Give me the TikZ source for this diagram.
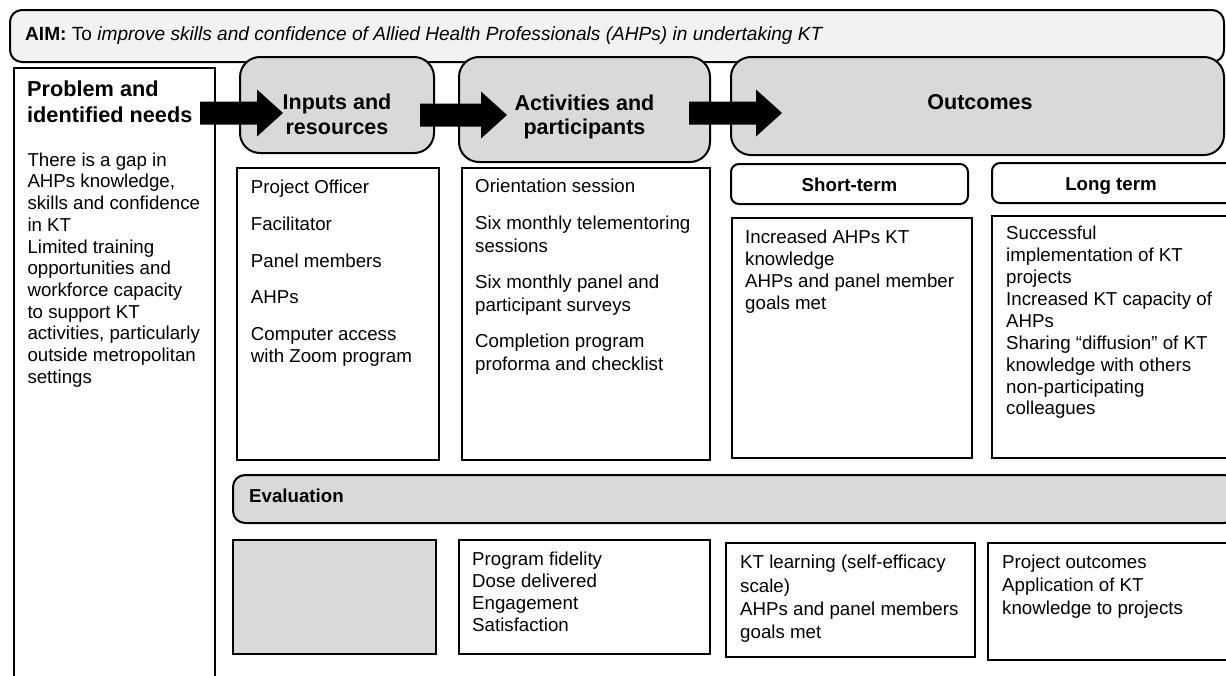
\documentclass[tikz,border=0pt]{standalone}
\usepackage{fontspec}
\setmainfont{Liberation Sans}
\usetikzlibrary{calc,fit}
\definecolor{hdrgray}{HTML}{D9D9D9}
\definecolor{aimgray}{HTML}{F2F2F2}
\tikzset{
  frame/.style={draw=black, line width=2pt, inner sep=0pt, outer sep=0pt},
  hdr/.style={frame, fill=hdrgray, rounded corners=20pt},
  subhdr/.style={frame, rounded corners=8pt},
  bar/.style={frame, fill=hdrgray, rounded corners=12pt},
  body/.style={anchor=north west, inner sep=0pt, align=left,
    font=\fontsize{18.7}{21.7}\selectfont,
    execute at begin node=\rule{0pt}{14pt}},
  bighead/.style={inner sep=0pt, font=\bfseries\fontsize{21.5}{24.7}\selectfont,
    execute at begin node=\rule{0pt}{16pt}},
  smallhead/.style={anchor=north, inner sep=0pt, font=\bfseries\fontsize{18.7}{21.7}\selectfont,
    execute at begin node=\rule{0pt}{14pt}},
}
% filled block arrow between two named points
\newcommand\blockarrow[2]{%
  \fill[black] ($(#1)+(0,-11.5)$) -- ($(#2)+(-26,-11.5)$) -- ($(#2)+(-26,-23.5)$)
    -- (#2) -- ($(#2)+(-26,23.5)$) -- ($(#2)+(-26,11.5)$) -- ($(#1)+(0,11.5)$) -- cycle;}
\begin{document}
\begin{tikzpicture}[x=1pt,y=-1pt]
\useasboundingbox (0,0) rectangle (1226,675);

% aim banner
\node[frame, fill=aimgray, rounded corners=12pt, fit={(10,10) (1224,62)}] (aim) {};
\node[body, font=\fontsize{19.1}{22}\selectfont] (aimtext) at (25,26.7)
  {\textbf{AIM:} To \textit{improve skills and confidence of Allied Health Professionals (AHPs) in undertaking KT}};

% problem column
\node[frame, fill=white, fit={(14,68) (215,700)}] (problem) {};
\node[bighead, anchor=north west, align=left, font=\bfseries\fontsize{21.7}{26}\selectfont] (problemhead) at (27,81)
  {Problem and\\identified needs};
\node[body] (problemtext) at (27.3,152.5)
  {There is a gap in\\AHPs knowledge,\\skills and confidence\\in KT\\Limited training\\opportunities and\\workforce capacity\\to support KT\\activities, particularly\\outside metropolitan\\settings};

% column headers
\node[hdr, fit={(240,57) (434,153)}] (inputs) {};
\node[hdr, fit={(459,57) (710,162)}] (activities) {};
\node[hdr, fit={(731,57) (1224,155)}] (outcomes) {};
\node[bighead, anchor=north, align=center] (inputshead) at (337,94) {Inputs and\\resources};
\node[bighead, anchor=north, align=center, font=\bfseries\fontsize{21.5}{24}\selectfont] (activhead) at (584.5,95) {Activities and\\participants};
\node[bighead, anchor=north] (outhead) at (980,93) {Outcomes};

% outcome sub-headers
\node[subhdr, fit={(731,164) (968,204)}] (short) {};
\node[subhdr, fit={(992,163) (1234,203)}] (long) {};
\node[smallhead] (shorthead) at (849.5,177.7) {Short-term};
\node[smallhead] (longhead) at (1111,176.7) {Long term};

% content boxes
\node[frame, fit={(237,168) (439,460)}] (inputsbox) {};
\node[frame, fit={(462,168) (710,460)}] (activbox) {};
\node[frame, fit={(732,218) (972,458)}] (shortbox) {};
\node[frame, fit={(992,216) (1234,458)}] (longbox) {};

\node[body, font=\fontsize{18.7}{22.4}\selectfont] (inputstext) at (250.7,180)
  {Project Officer\\[14pt]Facilitator\\[14.5pt]Panel members\\[14pt]AHPs\\[14.2pt]Computer access\\with Zoom program};
\node[body, font=\fontsize{18.7}{22.4}\selectfont] (activtext) at (475,179)
  {Orientation session\\[14.5pt]Six monthly telementoring\\sessions\\[14.2pt]Six monthly panel and\\participant surveys\\[14.5pt]Completion program\\proforma and checklist};
\node[body, font=\fontsize{18.7}{22}\selectfont] (shorttext) at (745,230)
  {Increased AHPs KT\\knowledge\\AHPs and panel member\\goals met};
\node[body, font=\fontsize{18.7}{21.9}\selectfont] (longtext) at (1006,226)
  {Successful\\implementation of KT\\projects\\Increased KT capacity of\\AHPs\\Sharing “diffusion” of KT\\knowledge with others\\non-participating\\colleagues};

% evaluation row
\node[bar, fit={(233,475) (1236,523)}] (evalbar) {};
\node[body, font=\bfseries\fontsize{18.7}{21.7}\selectfont] (evalhead) at (249,488.7) {Evaluation};

\node[frame, fill=hdrgray, fit={(233,540) (436,654)}] (evalinputs) {};
\node[frame, fit={(459,540) (710,654)}] (evalactiv) {};
\node[frame, fit={(726,543) (975,657)}] (evalshort) {};
\node[frame, fit={(988,543) (1236,660)}] (evallong) {};

\node[body, font=\fontsize{18.7}{22}\selectfont] (evalactivtext) at (472,552)
  {Program fidelity\\Dose delivered\\Engagement\\Satisfaction};
\node[body, font=\fontsize{18.7}{23.3}\selectfont] (evalshorttext) at (740,555)
  {KT learning (self-efficacy\\scale)\\AHPs and panel members\\goals met};
\node[body, font=\fontsize{18.7}{23}\selectfont] (evallongtext) at (1002,555)
  {Project outcomes\\Application of KT\\knowledge to projects};

% flow arrows
\coordinate (a1s) at (200,113);
\coordinate (a1t) at (283,113);
\coordinate (a2s) at (420,115);
\coordinate (a2t) at (507,115);
\coordinate (a3s) at (689,113);
\coordinate (a3t) at (782,113);
\blockarrow{a1s}{a1t}
\blockarrow{a2s}{a2t}
\blockarrow{a3s}{a3t}
\end{tikzpicture}
\end{document}
